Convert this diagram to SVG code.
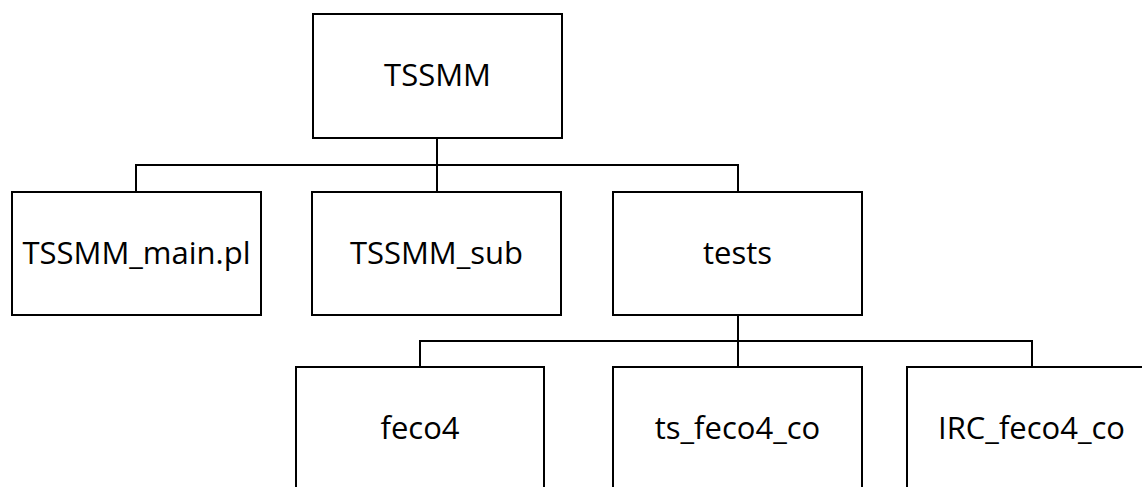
<svg xmlns="http://www.w3.org/2000/svg" width="1142" height="487" viewBox="0 0 1142 487">
  <style>
    .box { fill: #ffffff; stroke: #000000; stroke-width: 2; }
    .wire { fill: none; stroke: #000000; stroke-width: 2; }
    .label { font-family: "Open Sans", "Liberation Sans", sans-serif; font-size: 31px; fill: #000000; text-anchor: middle; }
  </style>

  <!-- tree connectors -->
  <g id="connectors">
    <path class="wire" d="M437,138 V192 M136,192 V165 H738 V192"/>
    <path class="wire" d="M738,315 V367 M420,367 V341 H1032 V367"/>
  </g>

  <!-- root -->
  <g id="node-tssmm">
    <rect class="box" x="313" y="14" width="249" height="124"/>
    <text class="label" x="437.5" y="86">TSSMM</text>
  </g>

  <!-- second level -->
  <g id="node-main">
    <rect class="box" x="12" y="192" width="249" height="123"/>
    <text class="label" x="136.5" y="264">TSSMM_main.pl</text>
  </g>
  <g id="node-sub">
    <rect class="box" x="312" y="192" width="249" height="123"/>
    <text class="label" x="436.5" y="264">TSSMM_sub</text>
  </g>
  <g id="node-tests">
    <rect class="box" x="613" y="192" width="249" height="123"/>
    <text class="label" x="737.5" y="264">tests</text>
  </g>

  <!-- third level -->
  <g id="node-feco4">
    <rect class="box" x="296" y="367" width="248" height="140"/>
    <text class="label" x="420" y="439">feco4</text>
  </g>
  <g id="node-ts">
    <rect class="box" x="613" y="367" width="249" height="140"/>
    <text class="label" x="737.5" y="439">ts_feco4_co</text>
  </g>
  <g id="node-irc">
    <rect class="box" x="907" y="367" width="249" height="140"/>
    <text class="label" x="1031.5" y="439">IRC_feco4_co</text>
  </g>
</svg>
